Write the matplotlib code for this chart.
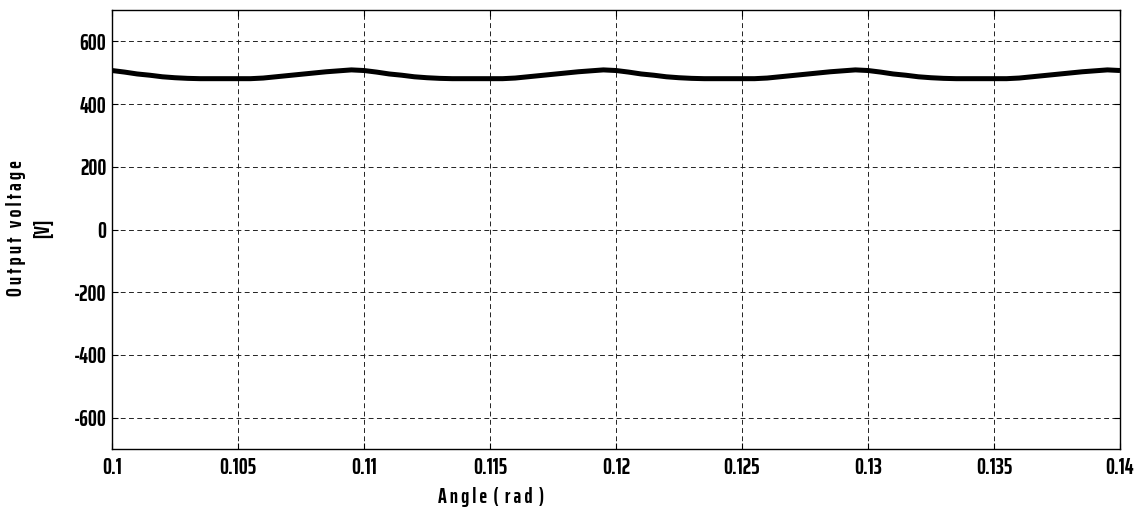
import matplotlib
matplotlib.use("Agg")
import matplotlib.pyplot as plt
from matplotlib import font_manager

# ---- data ----
angle = [0.1000 + 0.0005 * i for i in range(81)]
voltage = [
    507, 502, 496, 492, 487, 484, 482, 481, 481, 481,
    481, 481, 483, 487, 491, 495, 499, 503, 506, 509,
    507, 502, 496, 492, 487, 484, 482, 481, 481, 481,
    481, 481, 483, 487, 491, 495, 499, 503, 506, 509,
    507, 502, 496, 492, 487, 484, 482, 481, 481, 481,
    481, 481, 483, 487, 491, 495, 499, 503, 506, 509,
    507, 502, 496, 492, 487, 484, 482, 481, 481, 481,
    481, 481, 483, 487, 491, 495, 499, 503, 506, 509,
    507,
]
xticks = [0.1, 0.105, 0.11, 0.115, 0.12, 0.125, 0.13, 0.135, 0.14]
xticklabels = ["0.1", "0.105", "0.11", "0.115", "0.12", "0.125", "0.13", "0.135", "0.14"]
yticks = [-600, -400, -200, 0, 200, 400, 600]
xlabel = "A n g l e  (  r a d  )"
ylabel = "O u t p u t   v o l t a g e\n[V]"

names = {f.name for f in font_manager.fontManager.ttflist}
prefs = ["Saira ExtraCondensed", "Barlow Condensed", "Roboto Condensed",
         "IBM Plex Sans Condensed"]
fam = next((p for p in prefs if p in names), "DejaVu Sans")
plt.rcParams["font.family"] = [fam, "DejaVu Sans"]

fig = plt.figure(figsize=(11.46, 5.08), dpi=100)
ax = fig.add_axes([112 / 1146, 1 - 449 / 508, (1120 - 112) / 1146, (449 - 10) / 508])

ax.plot(angle, voltage, color="black", linewidth=3.6, solid_capstyle="butt")

ax.set_xlim(0.1, 0.14)
ax.set_ylim(-700, 700)
ax.set_xticks(xticks)
ax.set_xticklabels(xticklabels)
ax.set_yticks(yticks)
ax.set_yticklabels([str(v) for v in yticks])

ax.grid(True, color="#222222", linestyle=(0, (5, 3.5)), linewidth=0.7)
ax.tick_params(direction="in", length=4, width=0.8, top=True, right=True,
               labelsize=16, colors="black")
ax.tick_params(axis="x", pad=6)
ax.tick_params(axis="y", pad=4)
for lab in ax.get_xticklabels() + ax.get_yticklabels():
    lab.set_fontweight("bold")
for s in ax.spines.values():
    s.set_linewidth(1.0)
    s.set_color("black")

ax.set_xlabel(xlabel, fontsize=15, fontweight="bold")
ax.xaxis.set_label_coords((491 - 112) / 1008, -(487 - 449) / 439)
ax.set_ylabel(ylabel, fontsize=15, fontweight="bold", linespacing=1.45)
ax.yaxis.set_label_coords(-(112 - 53) / 1008, 0.503)

fig.savefig("out.png", dpi=100, facecolor="white")
